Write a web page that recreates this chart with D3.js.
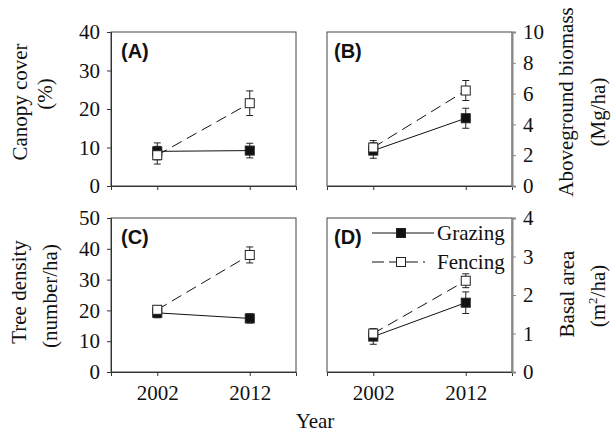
<!DOCTYPE html>
<html>
<head>
<meta charset="utf-8">
<script src="https://cdn.jsdelivr.net/npm/d3@7"></script>
<style>
  body { margin: 0; background: #fff; }
  svg { display: block; }
  text { font-family: "Liberation Serif", "Times New Roman", serif; fill: #111; }
  text.panel { font-family: "Liberation Sans", Arial, sans-serif; font-weight: bold; }
</style>
</head>
<body>
<svg id="chart" width="612" height="434"></svg>
<script>
// data
const years = [2002, 2012];
const canopyGrazing = [9.0, 9.2];
const canopyGrazingErr = [2.2, 1.9];
const canopyFencing = [8.0, 21.5];
const canopyFencingErr = [2.3, 3.2];
const biomassGrazing = [2.3, 4.4];
const biomassGrazingErr = [0.5, 0.65];
const biomassFencing = [2.5, 6.2];
const biomassFencingErr = [0.45, 0.65];
const densityGrazing = [19.2, 17.4];
const densityGrazingErr = [1.6, 1.5];
const densityFencing = [20.2, 38.0];
const densityFencingErr = [1.2, 2.6];
const basalGrazing = [0.92, 1.8];
const basalGrazingErr = [0.2, 0.28];
const basalFencing = [1.0, 2.37];
const basalFencingErr = [0.12, 0.18];
const treatments = ['Grazing', 'Fencing'];

const w = 185, h = 154;

const panels = [
    { label: '(A)', left: 111, top: 32, lx: 10, side: 'left', ticks: [0, 10, 20, 30, 40],
      g: canopyGrazing, ge: canopyGrazingErr, f: canopyFencing, fe: canopyFencingErr,
      titles: [{ t: 'Canopy cover', x: 27, y: 102 }, { t: '(%)', x: 52, y: 94 }], xlabels: false },
    { label: '(B)', left: 327, top: 32, lx: 7, side: 'right', ticks: [0, 2, 4, 6, 8, 10],
      g: biomassGrazing, ge: biomassGrazingErr, f: biomassFencing, fe: biomassFencingErr,
      titles: [{ t: 'Aboveground biomass', x: 573, y: 102 }, { t: '(Mg/ha)', x: 605, y: 112 }], xlabels: false },
    { label: '(C)', left: 111, top: 218, lx: 10, side: 'left', ticks: [0, 10, 20, 30, 40, 50],
      g: densityGrazing, ge: densityGrazingErr, f: densityFencing, fe: densityFencingErr,
      titles: [{ t: 'Tree density', x: 26, y: 292 }, { t: '(number/ha)', x: 57, y: 296 }], xlabels: true },
    { label: '(D)', left: 327, top: 218, lx: 7, side: 'right', ticks: [0, 1, 2, 3, 4],
      g: basalGrazing, ge: basalGrazingErr, f: basalFencing, fe: basalFencingErr,
      titles: [{ t: 'Basal area', x: 574, y: 294 }, { t: 'm2', x: 605, y: 296 }], xlabels: true, legend: true },
];

const svg = d3.select('#chart');

panels.forEach((p) => {
    const x = d3.scalePoint().domain(years).range([p.left, p.left + w]).padding(0.5);
    const y = d3.scaleLinear().domain([0, d3.max(p.ticks)]).range([p.top + h, p.top]);
    const g = svg.append('g');

    g.append('rect')
        .attr('x', p.left).attr('y', p.top)
        .attr('width', w).attr('height', h)
        .attr('fill', 'none').attr('stroke', '#444').attr('stroke-width', 1);

    const xAxis = d3.axisBottom(x).tickSize(4).tickPadding(9)
        .tickFormat(p.xlabels ? d3.format('d') : () => '');
    g.append('g')
        .attr('transform', `translate(0,${p.top + h})`)
        .call(xAxis)
        .call((a) => a.select('.domain').attr('stroke', '#333'))
        .call((a) => a.selectAll('.tick line').attr('stroke', '#333'));

    const yAxis = (p.side === 'left' ? d3.axisLeft(y) : d3.axisRight(y))
        .tickValues(p.ticks).tickSize(4).tickPadding(7).tickFormat(d3.format('d'));
    g.append('g')
        .attr('transform', `translate(${p.side === 'left' ? p.left : p.left + w},0)`)
        .call(yAxis)
        .call((a) => a.select('.domain')
            .attr('stroke', p.side === 'left' ? '#333' : '#888')
            .attr('stroke-width', p.side === 'left' ? 1 : 2))
        .call((a) => a.selectAll('.tick line').attr('stroke', p.side === 'left' ? '#333' : '#888'));

    g.selectAll('.tick text')
        .attr('font-size', 21)
        .attr('fill', '#111');

    const series = [
        { name: 'Grazing', v: p.g, e: p.ge },
        { name: 'Fencing', v: p.f, e: p.fe },
    ];

    const line = d3.line().x((d) => x(d[0])).y((d) => y(d[1]));

    series.forEach((s) => {
        g.append('path')
            .datum(years.map((yr, i) => [yr, s.v[i]]))
            .attr('d', line)
            .attr('fill', 'none')
            .attr('stroke', '#111')
            .attr('stroke-width', 1)
            .attr('stroke-dasharray', s.name === 'Fencing' ? '11,6' : null);
    });

    series.forEach((s) => {
        const eb = g.append('g')
            .selectAll('g')
            .data(years.map((yr, i) => ({ yr, v: s.v[i], e: s.e[i] })))
            .join('g')
            .attr('stroke', '#222').attr('stroke-width', 1);
        eb.append('line')
            .attr('x1', (d) => x(d.yr)).attr('x2', (d) => x(d.yr))
            .attr('y1', (d) => y(d.v - d.e)).attr('y2', (d) => y(d.v + d.e));
        [-1, 1].forEach((sg) => {
            eb.append('line')
                .attr('x1', (d) => x(d.yr) - 3.5).attr('x2', (d) => x(d.yr) + 3.5)
                .attr('y1', (d) => y(d.v + sg * d.e)).attr('y2', (d) => y(d.v + sg * d.e));
        });
    });

    series.forEach((s) => {
        g.append('g')
            .selectAll('rect')
            .data(years.map((yr, i) => ({ yr, v: s.v[i] })))
            .join('rect')
            .attr('x', (d) => x(d.yr) - 4.5)
            .attr('y', (d) => y(d.v) - 4.5)
            .attr('width', 9).attr('height', 9)
            .attr('fill', s.name === 'Grazing' ? '#111' : '#fff')
            .attr('stroke', '#222').attr('stroke-width', 1);
    });

    g.append('text')
        .attr('class', 'panel')
        .attr('x', p.left + p.lx)
        .attr('y', p.top + 26)
        .attr('font-size', 20)
        .text(p.label);

    p.titles.forEach((t) => {
        const tx = g.append('text')
            .attr('transform', `translate(${t.x},${t.y}) rotate(-90)`)
            .attr('text-anchor', 'middle')
            .attr('font-size', 21);
        if (t.t === 'm2') {
            tx.append('tspan').text('(m');
            tx.append('tspan').attr('dy', -8).attr('font-size', 13).text('2');
            tx.append('tspan').attr('dy', 8).text('/ha)');
        } else {
            tx.text(t.t);
        }
    });

    if (p.legend) {
        const lg = g.append('g');
        treatments.forEach((name, i) => {
            const ly = p.top + 15 + i * 29;
            lg.append('line')
                .attr('x1', p.left + 45).attr('x2', p.left + (i === 0 ? 107 : 98))
                .attr('y1', ly).attr('y2', ly)
                .attr('stroke', '#111').attr('stroke-width', 1)
                .attr('stroke-dasharray', i === 1 ? '12,5' : null);
            lg.append('rect')
                .attr('x', p.left + 74 - 4.5).attr('y', ly - 4.5)
                .attr('width', 9).attr('height', 9)
                .attr('fill', i === 0 ? '#111' : '#fff')
                .attr('stroke', '#222');
            lg.append('text')
                .attr('x', p.left + 110)
                .attr('y', ly + 7)
                .attr('font-size', 21)
                .text(name);
        });
    }
});

svg.append('text')
    .attr('x', 315).attr('y', 428)
    .attr('text-anchor', 'middle')
    .attr('font-size', 21)
    .text('Year');
</script>
</body>
</html>
